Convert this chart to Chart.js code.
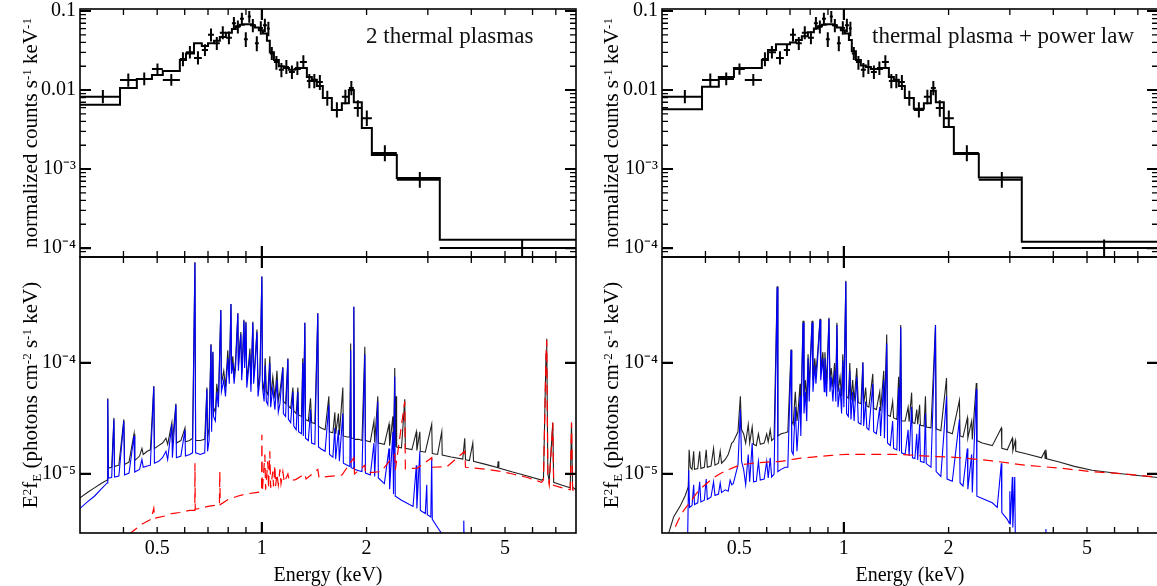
<!DOCTYPE html>
<html><head><meta charset="utf-8">
<script src="https://cdn.jsdelivr.net/npm/chart.js"></script>
<style>
html,body{margin:0;padding:0;overflow:hidden;background:#fff;}
#wrap{position:relative;width:1157px;height:586px;overflow:hidden;background:#fff;}
canvas{position:absolute;}
.yt{position:absolute;white-space:nowrap;font-family:'Liberation Serif','Times New Roman',serif;font-size:21px;color:#000;transform:translate(-50%,-50%) rotate(-90deg);line-height:1;}
.xt{position:absolute;white-space:nowrap;font-family:'Liberation Serif','Times New Roman',serif;font-size:20px;color:#000;transform:translate(-50%,-50%);line-height:1;}
.note{position:absolute;white-space:nowrap;font-family:'Liberation Serif','Times New Roman',serif;font-size:23px;color:#111;line-height:1;}
sup{font-size:0.62em;position:relative;top:-0.5em;vertical-align:baseline;line-height:0;}
sub{font-size:0.62em;position:relative;top:0.3em;vertical-align:baseline;line-height:0;}
</style></head>
<body>
<div id="wrap">
<canvas id="tl" width="580" height="262" style="left:0px;top:0px"></canvas>
<canvas id="bl" width="580" height="334" style="left:0px;top:252px"></canvas>
<canvas id="tr" width="580" height="262" style="left:582px;top:0px"></canvas>
<canvas id="br" width="580" height="334" style="left:582px;top:252px"></canvas>
<div class="yt" style="left:30px;top:133px">normalized counts s<sup>-1</sup> keV<sup>-1</sup></div>
<div class="yt" style="left:30px;top:395px">E<sup>2</sup>f<sub>E</sub> (photons cm<sup>-2</sup> s<sup>-1</sup> keV)</div>
<div class="yt" style="left:611px;top:133px">normalized counts s<sup>-1</sup> keV<sup>-1</sup></div>
<div class="yt" style="left:611px;top:395px">E<sup>2</sup>f<sub>E</sub> (photons cm<sup>-2</sup> s<sup>-1</sup> keV)</div>
<div class="xt" style="left:328px;top:574px">Energy (keV)</div>
<div class="xt" style="left:910px;top:574px">Energy (keV)</div>
<div class="note" style="left:366px;top:24px">2 thermal plasmas</div>
<div class="note" style="left:872px;top:24px">thermal plasma + power law</div>
</div>
<script>
const FONT = "'Liberation Serif','Times New Roman',serif";

// ---- Top panels: binned counts spectrum (keV, counts/s/keV) ----
const binEdges = [0.300,0.391,0.437,0.483,0.519,0.581,0.605,0.638,0.672,0.700,0.728,0.757,0.788,0.820,0.842,0.865,0.888,0.911,0.930,0.955,0.980,1.007,1.034,1.054,1.083,1.119,1.157,1.196,1.244,1.286,1.347,1.392,1.439,1.497,1.589,1.698,1.779,1.838,1.938,2.071,2.443,3.247,8.0];
const dataE = [0.349,0.413,0.459,0.501,0.549,0.593,0.621,0.655,0.686,0.714,0.742,0.772,0.804,0.831,0.853,0.876,0.899,0.920,0.942,0.967,0.993,1.020,1.044,1.068,1.101,1.138,1.176,1.220,1.265,1.316,1.369,1.415,1.468,1.542,1.643,1.738,1.808,1.887,2.003,2.257,2.845,5.6];
const dataRate = [0.0082,0.0134,0.0138,0.0184,0.0134,0.0247,0.030,0.0254,0.032,0.050,0.039,0.053,0.046,0.070,0.063,0.080,0.044,0.085,0.066,0.039,0.061,0.066,0.060,0.029,0.0226,0.018,0.0196,0.0169,0.019,0.0226,0.013,0.013,0.0126,0.0079,0.0056,0.0082,0.0106,0.0059,0.0044,0.0016,0.00073,0.000100];
const dataLo = [0.0068,0.0110,0.0115,0.0156,0.0113,0.020,0.025,0.021,0.027,0.041,0.032,0.044,0.038,0.058,0.052,0.066,0.035,0.071,0.054,0.031,0.050,0.054,0.048,0.024,0.018,0.0145,0.016,0.0138,0.0155,0.0185,0.0105,0.0105,0.010,0.0063,0.0045,0.0066,0.0086,0.0046,0.0035,0.00125,0.00058,0.000078];
const dataHi = [0.0100,0.0162,0.0166,0.0217,0.0160,0.030,0.036,0.031,0.038,0.060,0.047,0.064,0.055,0.084,0.076,0.095,0.054,0.100,0.079,0.048,0.074,0.080,0.073,0.035,0.027,0.022,0.024,0.0205,0.023,0.0275,0.016,0.016,0.0155,0.0098,0.0070,0.0101,0.013,0.0074,0.0055,0.0020,0.00092,0.000128];
const model2T = [0.0065,0.0106,0.0138,0.0155,0.0174,0.024,0.029,0.039,0.036,0.039,0.042,0.047,0.053,0.059,0.064,0.067,0.068,0.068,0.066,0.062,0.057,0.052,0.042,0.030,0.024,0.020,0.019,0.018,0.0185,0.019,0.0146,0.0135,0.0112,0.0079,0.0056,0.0068,0.0100,0.0070,0.0033,0.0015,0.00077,0.000127];
const modelPL = [0.0057,0.011,0.0146,0.019,0.019,0.024,0.032,0.038,0.038,0.040,0.043,0.048,0.054,0.060,0.064,0.067,0.068,0.068,0.066,0.062,0.057,0.052,0.043,0.031,0.024,0.0205,0.0195,0.0185,0.0185,0.019,0.0146,0.0135,0.0112,0.0079,0.0058,0.0068,0.0098,0.0070,0.0034,0.00155,0.00078,0.000120];

// ---- Bottom left: 2 thermal plasmas, E^2 f(E) ----
const totalL = [[0.300,6.1e-6],[0.315,6.8e-6],[0.330,7.5e-6],[0.345,8.2e-6],[0.359,8.8e-6],
[0.3605,4.8e-5],[0.362,1.13e-5],[0.370,1.15e-5],[0.3755,3.2e-5],[0.377,1.17e-5],[0.388,1.2e-5],
[0.401,3.1e-5],[0.403,1.22e-5],[0.415,1.28e-5],[0.429,2.3e-5],[0.431,1.32e-5],[0.445,1.45e-5],[0.452,1.7e-5],[0.456,1.5e-5],[0.468,1.6e-5],[0.478,1.65e-5],
[0.489,6.2e-5],[0.491,1.7e-5],[0.505,1.8e-5],[0.518,1.9e-5],[0.530,2.1e-5],[0.536,1.85e-5],[0.551,2.9e-5],[0.553,1.9e-5],
[0.566,4.3e-5],[0.568,1.9e-5],[0.585,2.0e-5],[0.601,2.6e-5],[0.603,1.95e-5],[0.620,2.0e-5],[0.632,2.1e-5],
[0.642,8.1e-4],[0.645,2.0e-5],[0.665,2.0e-5],[0.685,2.05e-5],[0.695,6.0e-5],[0.698,2.1e-5],[0.705,2.6e-5],
[0.714,1.48e-4],[0.717,3.0e-5],[0.723,1.26e-4],[0.726,4.0e-5],[0.735,3.6e-5],[0.742,6.5e-5],[0.750,4.8e-5],
[0.762,3.0e-4],[0.765,6.5e-5],[0.777,8.5e-5],[0.786,6.0e-5],[0.798,1.3e-4],[0.806,7.5e-5],[0.815,3.4e-4],[0.818,9.0e-5],[0.825,1.15e-4],[0.832,7.5e-5],[0.840,1.05e-4],
[0.853,2.8e-4],[0.856,9.5e-5],[0.862,1.35e-4],[0.870,1.9e-4],[0.875,8.0e-5],[0.880,1.15e-4],[0.888,2.45e-4],[0.892,1.0e-4],[0.900,2.35e-4],[0.905,7.0e-5],[0.915,9.5e-5],[0.924,1.35e-4],[0.930,6.5e-5],
[0.942,2.35e-4],[0.947,7.5e-5],[0.955,1.0e-4],[0.968,2.0e-4],[0.975,6.0e-5],[0.987,8.0e-5],
[1.000,6.0e-4],[1.004,7.0e-5],[1.015,5.5e-5],[1.022,1.1e-4],[1.030,5.5e-5],[1.040,5.2e-5],[1.054,1.15e-4],[1.060,5.0e-5],[1.075,7.5e-5],[1.090,4.8e-5],[1.105,8.5e-5],[1.115,4.6e-5],[1.127,5.5e-5],
[1.149,9.2e-5],[1.153,4.5e-5],[1.170,4.3e-5],[1.188,1.1e-4],[1.192,4.1e-5],[1.210,3.9e-5],[1.228,6.0e-5],[1.235,3.7e-5],[1.255,3.5e-5],[1.269,6.0e-5],[1.275,3.4e-5],[1.300,3.3e-5],[1.311,1.1e-4],[1.316,3.2e-5],
[1.329,2.3e-4],[1.335,3.1e-5],[1.360,3.0e-5],[1.380,4.8e-5],[1.390,2.9e-5],[1.420,2.85e-5],
[1.448,2.8e-4],[1.455,2.7e-5],[1.480,2.6e-5],[1.520,2.5e-5],[1.558,5.0e-5],[1.565,2.4e-5],[1.600,2.35e-5],[1.621,3.6e-5],[1.630,2.3e-5],[1.660,3.5e-5],[1.670,2.25e-5],
[1.709,6.0e-5],[1.715,2.2e-5],[1.760,2.15e-5],[1.790,2.15e-5],[1.800,1.5e-4],[1.806,2.1e-5],[1.830,2.1e-5],[1.838,3.2e-4],[1.846,2.05e-5],[1.900,2.05e-5],[1.940,2.0e-5],
[1.977,1.4e-4],[1.985,2.0e-5],[2.050,1.95e-5],[2.100,3.0e-5],[2.110,1.92e-5],[2.154,5.0e-5],[2.162,1.9e-5],[2.250,1.85e-5],[2.320,2.8e-5],[2.330,1.8e-5],[2.380,3.3e-5],[2.390,1.78e-5],
[2.410,9.0e-5],[2.418,1.76e-5],[2.430,5.0e-5],[2.440,1.75e-5],[2.520,1.72e-5],[2.575,4.7e-5],[2.585,1.7e-5],[2.700,1.66e-5],[2.780,2.4e-5],[2.790,1.63e-5],[2.845,2.4e-5],[2.855,1.6e-5],[2.950,1.57e-5],
[3.078,2.8e-5],[3.090,1.53e-5],[3.200,1.5e-5],[3.290,2.4e-5],[3.300,1.48e-5],[3.500,1.42e-5],[3.780,1.36e-5],[3.830,2.1e-5],[3.850,1.34e-5],[3.950,1.32e-5],[4.040,1.9e-5],[4.060,1.3e-5],[4.400,1.22e-5],[4.760,1.14e-5],[4.780,1.3e-5],[4.800,1.13e-5],[5.260,1.04e-5],[5.800,9.6e-6],[6.370,8.8e-6],
[6.450,9.0e-6],[6.560,1.2e-4],[6.590,1.65e-4],[6.640,1.0e-5],[6.700,8.6e-6],[6.860,2.9e-5],[6.900,8.4e-6],[7.300,7.9e-6],[7.700,7.5e-6],[7.766,2.9e-5],[7.820,7.6e-6],[8.0,7.2e-6]];

const coolL = [[0.300,4.9e-6],[0.315,5.6e-6],[0.330,6.3e-6],[0.345,7.3e-6],[0.359,8.3e-6],
[0.3605,4.7e-5],[0.362,9.2e-6],[0.370,9.3e-6],[0.3755,3.1e-5],[0.377,9.4e-6],[0.388,9.6e-6],
[0.401,3.0e-5],[0.403,9.8e-6],[0.415,1.02e-5],[0.429,2.2e-5],[0.431,1.04e-5],[0.445,1.1e-5],[0.452,1.35e-5],[0.456,1.15e-5],[0.468,1.18e-5],[0.478,1.2e-5],
[0.489,6.1e-5],[0.491,1.25e-5],[0.505,1.3e-5],[0.518,1.4e-5],[0.530,1.6e-5],[0.536,1.35e-5],[0.551,2.8e-5],[0.553,1.4e-5],
[0.566,4.2e-5],[0.568,1.4e-5],[0.585,1.45e-5],[0.601,2.5e-5],[0.603,1.45e-5],[0.620,1.5e-5],[0.632,1.55e-5],
[0.642,8.0e-4],[0.645,1.55e-5],[0.665,1.5e-5],[0.685,1.55e-5],[0.695,5.8e-5],[0.698,1.6e-5],[0.705,2.0e-5],
[0.714,1.45e-4],[0.717,2.4e-5],[0.723,1.25e-4],[0.726,3.3e-5],[0.735,3.0e-5],[0.742,5.5e-5],[0.750,4.0e-5],
[0.762,3.0e-4],[0.765,5.5e-5],[0.777,7.0e-5],[0.786,5.0e-5],[0.798,1.1e-4],[0.806,6.5e-5],[0.815,3.4e-4],[0.818,8.0e-5],[0.825,1.0e-4],[0.832,6.5e-5],[0.840,9.0e-5],
[0.853,2.8e-4],[0.856,8.5e-5],[0.862,1.2e-4],[0.870,1.8e-4],[0.875,7.0e-5],[0.880,1.0e-4],[0.888,2.4e-4],[0.892,9.0e-5],[0.900,2.3e-4],[0.905,6.0e-5],[0.915,8.5e-5],[0.924,1.2e-4],[0.930,5.5e-5],
[0.942,2.3e-4],[0.947,6.5e-5],[0.955,9.0e-5],[0.968,1.9e-4],[0.975,5.0e-5],[0.987,7.0e-5],
[1.000,6.0e-4],[1.004,6.0e-5],[1.015,4.5e-5],[1.022,9.5e-5],[1.030,4.5e-5],[1.040,4.2e-5],[1.054,1.0e-4],[1.060,4.0e-5],[1.075,6.0e-5],[1.090,3.8e-5],[1.105,7.0e-5],[1.115,3.6e-5],[1.127,4.3e-5],
[1.149,9.0e-5],[1.153,3.5e-5],[1.170,3.3e-5],[1.188,1.08e-4],[1.192,3.1e-5],[1.210,2.9e-5],[1.228,5.5e-5],[1.235,2.7e-5],[1.255,2.5e-5],[1.269,5.5e-5],[1.275,2.4e-5],[1.300,2.3e-5],[1.311,1.0e-4],[1.316,2.2e-5],
[1.329,2.3e-4],[1.335,2.1e-5],[1.360,2.0e-5],[1.380,3.8e-5],[1.390,1.9e-5],[1.420,1.85e-5],
[1.448,2.8e-4],[1.455,1.75e-5],[1.480,1.68e-5],[1.520,1.6e-5],[1.558,4.2e-5],[1.565,1.5e-5],[1.600,1.42e-5],[1.621,2.6e-5],[1.630,1.36e-5],[1.660,2.5e-5],[1.670,1.3e-5],
[1.709,3.5e-5],[1.715,1.25e-5],[1.760,1.2e-5],[1.790,1.17e-5],[1.800,1.3e-4],[1.806,1.14e-5],[1.830,1.12e-5],[1.838,3.2e-4],[1.846,1.1e-5],[1.900,1.07e-5],[1.940,1.05e-5],
[1.977,1.2e-4],[1.985,1.02e-5],[2.050,9.8e-6],[2.100,1.9e-5],[2.110,9.5e-6],[2.154,4.5e-5],[2.162,9.2e-6],[2.250,8.2e-6],[2.320,1.7e-5],[2.330,7.3e-6],[2.380,2.4e-5],[2.390,6.6e-6],
[2.410,7.5e-5],[2.418,6.3e-6],[2.440,6.2e-6],[2.520,5.8e-6],[2.600,5.5e-6],[2.720,5.1e-6],[2.780,1.2e-5],[2.790,4.9e-6],[2.845,1.6e-5],[2.855,4.7e-6],[2.950,4.4e-6],[2.978,8.0e-6],[2.990,4.3e-6],
[3.060,4.1e-6],[3.078,1.4e-5],[3.090,3.9e-6],[3.200,3.3e-6],[3.290,2.9e-6],[3.400,2.5e-6],[3.700,2.0e-6],[3.790,2.0e-6],[3.806,3.8e-6],[3.820,2.0e-6],[4.000,1.8e-6]];

const hotL = [[0.380,2.4e-6],[0.420,2.95e-6],[0.450,3.5e-6],[0.480,3.9e-6],[0.489,4.9e-6],[0.492,4.0e-6],[0.530,4.2e-6],[0.551,4.4e-6],[0.580,4.5e-6],[0.620,4.7e-6],[0.6415,4.7e-6],[0.642,1.25e-5],[0.6435,4.8e-6],[0.700,5.1e-6],
[0.755,5.3e-6],[0.757,1.05e-5],[0.759,5.3e-6],[0.800,5.9e-6],[0.850,6.3e-6],[0.900,6.6e-6],[0.960,6.8e-6],[0.998,6.9e-6],[1.000,2.25e-5],[1.003,7.0e-6],[1.020,1.5e-5],[1.025,7.2e-6],[1.040,1.3e-5],[1.045,7.4e-6],[1.054,1.6e-5],[1.060,7.5e-6],
[1.075,1.05e-5],[1.080,7.7e-6],[1.090,1.2e-5],[1.095,7.8e-6],[1.105,1.0e-5],[1.115,8.0e-6],[1.127,1.1e-5],[1.135,8.2e-6],[1.149,1.05e-5],[1.160,8.4e-6],[1.188,1.0e-5],[1.200,8.7e-6],[1.250,8.9e-6],[1.329,1.0e-5],[1.340,9.0e-6],[1.448,1.1e-5],[1.460,9.3e-6],[1.560,9.5e-6],[1.700,9.8e-6],
[1.838,1.4e-5],[1.846,1.0e-5],[1.977,1.2e-5],[1.985,1.02e-5],[2.200,1.05e-5],[2.410,1.5e-5],[2.420,1.09e-5],[2.575,4.5e-5],[2.585,1.11e-5],[2.800,1.13e-5],[3.078,1.4e-5],[3.090,1.15e-5],[3.400,1.16e-5],[3.830,1.6e-5],[3.850,1.15e-5],[4.100,1.13e-5],[4.430,1.1e-5],[4.800,1.06e-5],[5.260,1.0e-5],[5.800,9.3e-6],[6.370,8.4e-6],
[6.450,8.8e-6],[6.560,1.2e-4],[6.590,1.6e-4],[6.640,9.5e-6],[6.700,8.0e-6],[6.860,2.9e-5],[6.900,7.9e-6],[7.300,7.5e-6],[7.700,7.2e-6],[7.766,2.9e-5],[7.820,7.2e-6],[8.0,7.1e-6]];

// ---- Bottom right: thermal plasma + power law ----
const totalR = [[0.300,2.0e-6],[0.310,2.6e-6],[0.324,4.1e-6],[0.339,5.2e-6],[0.350,6.4e-6],[0.357,7.7e-6],[0.359,1.65e-5],[0.362,1.15e-5],[0.366,1.1e-5],[0.370,1.6e-5],[0.372,1.1e-5],[0.380,1.12e-5],[0.385,1.6e-5],[0.388,1.12e-5],[0.397,1.15e-5],[0.402,1.65e-5],[0.405,1.15e-5],[0.415,1.18e-5],[0.422,1.7e-5],[0.426,1.2e-5],[0.436,1.25e-5],[0.441,1.6e-5],[0.445,1.25e-5],[0.456,1.35e-5],[0.465,1.5e-5],[0.471,1.7e-5],[0.476,1.9e-5],[0.481,1.95e-5],[0.496,2.4e-5],
[0.504,5.0e-5],[0.508,2.5e-5],[0.515,2.3e-5],[0.522,1.9e-5],[0.531,2.8e-5],[0.536,1.9e-5],[0.545,2.65e-5],[0.550,1.85e-5],[0.560,1.8e-5],[0.568,2.3e-5],[0.575,1.85e-5],[0.590,1.9e-5],[0.600,2.3e-5],[0.606,1.95e-5],[0.614,2.5e-5],[0.620,2.0e-5],[0.630,2.1e-5],[0.643,4.9e-4],[0.646,2.2e-5],[0.660,2.3e-5],[0.678,2.35e-5],[0.690,2.4e-5],
[0.705,1.32e-4],[0.708,3.0e-5],[0.715,2.8e-5],[0.725,5.5e-5],[0.733,3.0e-5],[0.740,4.0e-5],[0.748,6.5e-5],[0.752,3.5e-5],[0.763,2.4e-4],[0.768,5.0e-5],[0.775,7.0e-5],[0.782,4.5e-5],[0.789,1.2e-4],[0.795,6.0e-5],[0.800,1.0e-4],[0.810,2.4e-4],[0.815,7.0e-5],[0.825,1.1e-4],[0.831,8.0e-5],[0.840,1.2e-4],
[0.854,2.5e-4],[0.858,8.5e-5],[0.870,1.25e-4],[0.878,7.0e-5],[0.882,1.25e-4],[0.892,6.5e-5],[0.906,2.55e-4],[0.912,7.0e-5],[0.920,9.0e-5],[0.930,6.0e-5],[0.940,1.0e-4],[0.948,6.0e-5],[0.955,2.3e-4],[0.962,5.5e-5],[0.975,7.5e-5],[0.985,5.0e-5],[0.993,1.2e-4],[1.000,5.5e-5],
[1.013,5.5e-4],[1.018,5.0e-5],[1.030,4.8e-5],[1.040,1.0e-4],[1.048,4.6e-5],[1.060,7.0e-5],[1.070,4.5e-5],[1.089,9.0e-5],[1.100,4.4e-5],[1.120,4.3e-5],[1.134,1.02e-4],[1.140,4.2e-5],[1.155,6.0e-5],[1.164,4.1e-5],[1.180,4.0e-5],[1.211,8.0e-5],[1.218,3.9e-5],[1.240,3.8e-5],[1.268,5.5e-5],[1.275,3.7e-5],
[1.302,8.5e-5],[1.308,3.6e-5],[1.328,1.8e-4],[1.335,3.4e-5],[1.360,3.3e-5],[1.381,4.5e-5],[1.390,3.2e-5],[1.420,3.1e-5],[1.437,7.5e-5],[1.445,3.1e-5],[1.457,2.2e-4],[1.465,3.0e-5],[1.500,3.0e-5],[1.530,4.0e-5],[1.540,2.95e-5],[1.566,5.4e-5],[1.575,2.9e-5],[1.600,2.85e-5],[1.620,3.8e-5],[1.630,2.8e-5],[1.651,4.2e-5],[1.660,2.75e-5],[1.700,2.7e-5],[1.716,5.0e-5],[1.725,2.65e-5],[1.780,2.6e-5],
[1.834,2.2e-4],[1.842,2.55e-5],[1.900,2.45e-5],[1.973,7.3e-5],[1.980,2.4e-5],[2.050,2.3e-5],[2.149,4.6e-5],[2.158,2.2e-5],[2.200,2.15e-5],[2.265,3.2e-5],[2.272,2.1e-5],[2.330,3.0e-5],[2.340,2.05e-5],[2.403,6.6e-5],[2.412,2.0e-5],[2.500,1.9e-5],[2.671,1.8e-5],[2.836,2.6e-5],[2.845,1.7e-5],[2.950,1.65e-5],
[3.050,2.1e-5],[3.060,1.62e-5],[3.110,2.0e-5],[3.120,1.6e-5],[3.340,1.52e-5],[3.700,1.4e-5],[3.780,1.6e-5],[3.790,1.38e-5],[3.810,1.65e-5],[3.830,1.37e-5],[4.160,1.28e-5],[4.600,1.17e-5],[5.170,1.08e-5],[6.000,1.02e-5],[7.000,9.7e-6],[8.0,9.3e-6]];

const thermR = [[0.355,2.0e-6],[0.358,1.08e-5],[0.360,5.0e-6],[0.366,5.2e-6],[0.370,8.0e-6],[0.372,5.3e-6],[0.380,5.5e-6],[0.385,8.5e-6],[0.388,5.6e-6],[0.397,5.8e-6],[0.402,9.0e-6],[0.405,5.9e-6],[0.415,6.2e-6],[0.422,8.5e-6],[0.426,6.4e-6],[0.436,6.6e-6],[0.441,8.3e-6],[0.445,6.8e-6],[0.456,7.2e-6],[0.465,7.0e-6],[0.471,8.8e-6],[0.476,8.0e-6],[0.481,8.2e-6],[0.496,1.2e-5],
[0.504,3.8e-5],[0.508,1.3e-5],[0.515,1.1e-5],[0.522,8.0e-6],[0.531,1.5e-5],[0.536,8.5e-6],[0.545,1.9e-5],[0.550,8.5e-6],[0.560,8.6e-6],[0.568,1.3e-5],[0.575,8.8e-6],[0.590,9.0e-6],[0.600,1.3e-5],[0.606,9.2e-6],[0.614,1.4e-5],[0.620,9.4e-6],[0.630,1.0e-5],[0.643,4.8e-4],[0.646,1.05e-5],[0.660,1.1e-5],[0.678,1.15e-5],[0.690,1.15e-5],
[0.705,1.3e-4],[0.708,1.6e-5],[0.715,1.5e-5],[0.725,4.0e-5],[0.733,1.6e-5],[0.740,2.6e-5],[0.748,5.0e-5],[0.752,2.2e-5],[0.763,2.3e-4],[0.768,3.5e-5],[0.775,5.5e-5],[0.782,3.0e-5],[0.789,1.1e-4],[0.795,4.5e-5],[0.800,8.5e-5],[0.810,2.3e-4],[0.815,5.5e-5],[0.825,9.5e-5],[0.831,6.5e-5],[0.840,1.05e-4],
[0.854,2.45e-4],[0.858,7.0e-5],[0.870,1.1e-4],[0.878,5.5e-5],[0.882,1.1e-4],[0.892,5.0e-5],[0.906,2.5e-4],[0.912,5.5e-5],[0.920,7.5e-5],[0.930,4.5e-5],[0.940,8.5e-5],[0.948,4.5e-5],[0.955,2.2e-4],[0.962,4.0e-5],[0.975,6.0e-5],[0.985,3.5e-5],[0.993,1.05e-4],[1.000,4.0e-5],
[1.013,5.4e-4],[1.018,3.5e-5],[1.030,3.3e-5],[1.040,8.5e-5],[1.048,3.1e-5],[1.060,5.5e-5],[1.070,3.0e-5],[1.089,7.5e-5],[1.100,2.9e-5],[1.120,2.8e-5],[1.134,1.0e-4],[1.140,2.7e-5],[1.155,4.5e-5],[1.164,2.6e-5],[1.180,2.5e-5],[1.211,6.5e-5],[1.218,2.4e-5],[1.240,2.3e-5],[1.268,4.0e-5],[1.275,2.2e-5],
[1.302,7.0e-5],[1.308,2.1e-5],[1.328,1.5e-4],[1.335,1.9e-5],[1.360,1.8e-5],[1.381,3.0e-5],[1.390,1.7e-5],[1.420,1.65e-5],[1.437,6.0e-5],[1.445,1.6e-5],[1.457,2.1e-4],[1.465,1.55e-5],[1.500,1.5e-5],[1.530,2.5e-5],[1.540,1.45e-5],[1.566,4.0e-5],[1.575,1.4e-5],[1.600,1.38e-5],[1.620,2.3e-5],[1.630,1.34e-5],[1.651,2.8e-5],[1.660,1.3e-5],[1.700,1.27e-5],[1.716,3.5e-5],[1.725,1.24e-5],[1.780,1.15e-5],
[1.834,2.2e-4],[1.842,1.05e-5],[1.900,9.5e-6],[1.973,5.0e-5],[1.980,9.0e-6],[2.050,8.6e-6],[2.149,3.1e-5],[2.158,8.3e-6],[2.200,7.8e-6],[2.265,1.7e-5],[2.272,7.3e-6],[2.330,1.5e-5],[2.340,6.8e-6],[2.403,5.8e-5],[2.412,6.3e-6],[2.500,6.0e-6],[2.671,5.5e-6],[2.760,5.0e-6],[2.836,1.25e-5],[2.845,4.5e-6],[2.950,3.9e-6],[2.988,3.6e-6],
[3.000,7.0e-6],[3.010,3.5e-6],[3.050,9.4e-6],[3.060,3.3e-6],[3.100,9.4e-6],[3.110,2.9e-6],[3.130,2.0e-6],[3.800,1.5e-6],[3.810,3.2e-6],[3.820,1.5e-6]];

const plR = [[0.312,2.5e-6],[0.324,3.1e-6],[0.339,4.2e-6],[0.350,4.9e-6],[0.362,5.6e-6],[0.380,6.9e-6],[0.405,8.3e-6],[0.430,9.6e-6],[0.462,1.08e-5],[0.504,1.2e-5],[0.550,1.25e-5],[0.600,1.28e-5],[0.656,1.3e-5],[0.730,1.37e-5],[0.815,1.42e-5],[0.920,1.47e-5],[1.020,1.5e-5],[1.150,1.5e-5],[1.380,1.5e-5],[1.730,1.45e-5],[2.150,1.4e-5],[2.670,1.31e-5],[3.340,1.2e-5],[4.160,1.13e-5],[5.170,1.05e-5],[6.400,1.0e-5],[7.820,9.4e-6],[8.0,9.3e-6]];

// ---- Axes ----
const xRange = [0.3, 8.0];
const yRangeTop = [7.7e-5, 0.106];
const yRangeBot = [2.94e-6, 9.0e-4];
const xTicks = [0.4,0.5,0.6,0.7,0.8,0.9,1,2,3,4,5,6,7];
const xTickLabels = {[0.5]:'0.5',[1]:'1',[2]:'2',[5]:'5'};
const yTicksTop = [9e-5,1e-4,2e-4,3e-4,4e-4,5e-4,6e-4,7e-4,8e-4,9e-4,1e-3,2e-3,3e-3,4e-3,5e-3,6e-3,7e-3,8e-3,9e-3,0.01,0.02,0.03,0.04,0.05,0.06,0.07,0.08,0.09,0.1];
const yTickLabelsTop = {[0.1]:'0.1',[0.01]:'0.01',[1e-3]:'10\u207B\u00B3',[1e-4]:'10\u207B\u2074'};
const yTicksBot = [1e-5,1e-4];
const yTickLabelsBot = {[1e-4]:'10\u207B\u2074',[1e-5]:'10\u207B\u2075'};

function isDecade(v){ const l=Math.log10(v); return Math.abs(l-Math.round(l))<1e-6; }

const framePlugin = {
  id:'frame',
  afterDatasetsDraw(chart){
    const {ctx, chartArea:a} = chart;
    const xs = chart.scales.x, ys = chart.scales.y;
    ctx.save();
    ctx.strokeStyle = '#000';
    ctx.lineWidth = 1.6;
    ctx.strokeRect(a.left, a.top, a.right-a.left, a.bottom-a.top);
    const draw = (major) => {
      ctx.beginPath();
      ctx.lineWidth = major ? 2.2 : 1.3;
      for (const t of xs.ticks) {
        if (isDecade(t.value) !== major) continue;
        const p = xs.getPixelForValue(t.value);
        if (p <= a.left+1 || p >= a.right-1) continue;
        const L = major ? 11 : 6;
        ctx.moveTo(p, a.bottom); ctx.lineTo(p, a.bottom-L);
        ctx.moveTo(p, a.top); ctx.lineTo(p, a.top+L);
      }
      for (const t of ys.ticks) {
        if (isDecade(t.value) !== major) continue;
        const p = ys.getPixelForValue(t.value);
        if (p < a.top || p > a.bottom) continue;
        const L = major ? 11 : 6;
        ctx.moveTo(a.left, p); ctx.lineTo(a.left+L, p);
        ctx.moveTo(a.right, p); ctx.lineTo(a.right-L, p);
      }
      ctx.stroke();
    };
    draw(false); draw(true);
    ctx.restore();
  }
};

function noPad(s){ s.paddingTop = 0; s.paddingBottom = 0; s.paddingLeft = 0; s.paddingRight = 0; }
function xAxis(showLabels){
  return {
    type:'logarithmic', min:xRange[0], max:xRange[1],
    afterFit: s => { s.height = showLabels ? 53 : 0; noPad(s); },
    afterBuildTicks: s => { s.ticks = xTicks.map(v=>({value:v})); },
    ticks:{display:showLabels, autoSkip:false, maxRotation:0, padding:4, color:'#000',
      font:{family:FONT,size:20}, callback:v => xTickLabels[v] || ''},
    grid:{display:false, drawTicks:false}, border:{display:false}
  };
}
function yAxis(range, ticks, labels){
  return {
    type:'logarithmic', min:range[0], max:range[1],
    afterFit: s => { s.width = 80; noPad(s); },
    afterBuildTicks: s => { s.ticks = ticks.map(v=>({value:v})); },
    ticks:{autoSkip:false, padding:4, color:'#000', font:{family:FONT,size:20},
      callback:v => labels[v] || ''},
    grid:{display:false, drawTicks:false}, border:{display:false}
  };
}
function baseOptions(top){
  return {
    responsive:false, animation:false, devicePixelRatio:1,
    layout:{padding: top ? {left:0,right:4,top:9,bottom:5} : {left:0,right:4,top:5,bottom:0}},
    plugins:{legend:{display:false}, tooltip:{enabled:false}, title:{display:false}},
    elements:{point:{radius:0}, line:{tension:0}},
    scales:{ x:xAxis(!top), y: top ? yAxis(yRangeTop,yTicksTop,yTickLabelsTop) : yAxis(yRangeBot,yTicksBot,yTickLabelsBot) }
  };
}
function crossPoints(){
  const pts = [];
  for (let i=0;i<dataE.length;i++){
    pts.push({x:binEdges[i],y:dataRate[i]},{x:binEdges[i+1],y:dataRate[i]},{x:dataE[i],y:null},
             {x:dataE[i],y:dataLo[i]},{x:dataE[i],y:dataHi[i]},{x:dataE[i],y:null});
  }
  return pts;
}
function stepPoints(model){
  return binEdges.map((e,i)=>({x:e, y:model[Math.min(i, model.length-1)]}));
}
const toXY = arr => arr.map(p=>({x:p[0],y:p[1]}));

function topChart(id, model){
  new Chart(document.getElementById(id), {
    type:'line',
    data:{datasets:[
      {data:crossPoints(), borderColor:'#000', borderWidth:2, spanGaps:false, pointRadius:0},
      {data:stepPoints(model), borderColor:'#000', borderWidth:2, stepped:true, pointRadius:0}
    ]},
    options:baseOptions(true),
    plugins:[framePlugin]
  });
}
function botChart(id, black, blue, red, smoothRed){
  new Chart(document.getElementById(id), {
    type:'line',
    data:{datasets:[
      {data:toXY(red), borderColor:'#ff0000', borderWidth:1.2, borderDash:[10,6], pointRadius:0, cubicInterpolationMode: smoothRed ? 'monotone' : 'default'},
      {data:toXY(blue), borderColor:'#0000ff', borderWidth:1.1, pointRadius:0},
      {data:toXY(black), borderColor:'#222', borderWidth:1.1, pointRadius:0}
    ]},
    options:baseOptions(false),
    plugins:[framePlugin]
  });
}
topChart('tl', model2T);
topChart('tr', modelPL);
botChart('bl', totalL, coolL, hotL, false);
botChart('br', totalR, thermR, plR, true);
</script>
</body></html>
